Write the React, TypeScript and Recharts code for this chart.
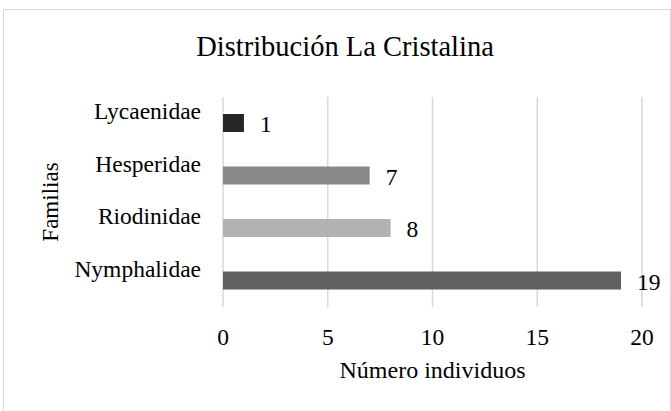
import React from 'react';
import { BarChart, Bar, XAxis, YAxis, CartesianGrid, Cell, LabelList } from 'recharts';

const familias = ['Lycaenidae', 'Hesperidae', 'Riodinidae', 'Nymphalidae'];
const individuos = [1, 7, 8, 19];
const colores = ['#262626', '#898989', '#b2b2b2', '#606060'];
const xTicks = [0, 5, 10, 15, 20];

const data = familias.map((name, i) => ({ name, value: individuos[i] }));

const FONT = '"Liberation Serif", "Times New Roman", serif';

const CategoryTick = ({ x, y, payload }: any) => (
  <text x={x - 14} y={y - 12} textAnchor="end" dominantBaseline="central" fontSize={23.5} fontFamily={FONT} fill="#000">
    {payload.value}
  </text>
);

const ValueTick = ({ x, y, payload }: any) => (
  <text x={x} y={y + 22} textAnchor="middle" dominantBaseline="central" fontSize={23.5} fontFamily={FONT} fill="#000">
    {payload.value}
  </text>
);

const App: React.FC = () => {
  return (
    <div style={{ position: 'absolute', left: 0, top: 0, width: 671, height: 411, overflow: 'hidden', background: '#fff' }}>
      <div style={{ position: 'absolute', left: 3, top: 9, width: 666, height: 420, border: '1px solid #d9d9d9' }} />
      <div
        style={{
          position: 'absolute',
          left: 345,
          top: 33,
          transform: 'translateX(-50%)',
          whiteSpace: 'nowrap',
          fontFamily: FONT,
          fontSize: 28.5,
          lineHeight: '28px',
          color: '#000',
        }}
      >
        Distribución La Cristalina
      </div>
      <div style={{ position: 'absolute', left: 0, top: 0 }}>
        <BarChart
          width={671}
          height={411}
          data={data}
          layout="vertical"
          margin={{ top: 97, right: 29, bottom: 0, left: 0 }}
        >
          <CartesianGrid horizontal={false} stroke="#d9d9d9" strokeWidth={1.5} />
          <XAxis
            type="number"
            domain={[0, 20]}
            ticks={xTicks}
            axisLine={false}
            tickLine={false}
            height={104}
            tick={<ValueTick />}
            label={{
              content: (props: any) => {
                const vb = props.viewBox;
                return (
                  <text x={vb.x + vb.width / 2} y={vb.y + 63} textAnchor="middle" dominantBaseline="central" fontSize={24} fontFamily={FONT} fill="#000">
                    Número individuos
                  </text>
                );
              },
            }}
          />
          <YAxis
            type="category"
            dataKey="name"
            width={223}
            axisLine={false}
            tickLine={false}
            tick={<CategoryTick />}
            label={{
              content: (props: any) => {
                const vb = props.viewBox;
                const cx = 50;
                const cy = vb.y + vb.height / 2;
                return (
                  <text x={cx} y={cy} transform={`rotate(-90 ${cx} ${cy})`} textAnchor="middle" dominantBaseline="central" fontSize={23} fontFamily={FONT} fill="#000">
                    Familias
                  </text>
                );
              },
            }}
          />
          <Bar dataKey="value" barSize={18} isAnimationActive={false}>
            {data.map((entry, i) => (
              <Cell key={`cell-${entry.name}`} fill={colores[i]} />
            ))}
            <LabelList dataKey="value" position="right" offset={16} dy={1} fontSize={23.5} fontFamily={FONT} fill="#000" />
          </Bar>
        </BarChart>
      </div>
    </div>
  );
};

export default App;
